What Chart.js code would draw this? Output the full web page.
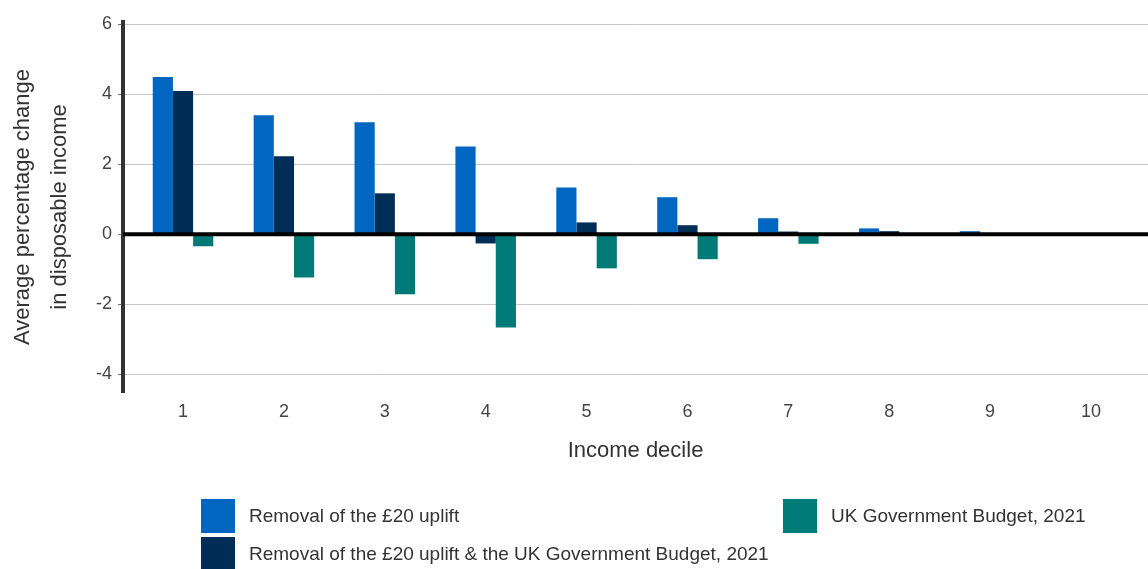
<!DOCTYPE html>
<html><head><meta charset="utf-8">
<script src="https://cdn.jsdelivr.net/npm/chart.js@4"></script>
<style>
html,body{margin:0;padding:0;background:#fff;}
#wrap{position:relative;width:1148px;height:569px;overflow:hidden;font-family:"Liberation Sans",Arial,sans-serif;}
canvas{position:absolute;left:0;top:0;}
.lg{position:absolute;height:34px;display:flex;align-items:center;font-size:19px;color:#333;white-space:nowrap;}
.lg i{display:block;width:34px;height:34px;margin-right:14px;}
</style></head><body>
<div id="wrap"><canvas id="c" width="1148" height="569"></canvas><div id="legend"></div></div>
<script>
const deciles = ['1','2','3','4','5','6','7','8','9','10'];
const yTicks = [-4, -2, 0, 2, 4, 6];
const removalUplift = [4.49, 3.40, 3.20, 2.51, 1.34, 1.06, 0.46, 0.17, 0.09, 0];
const removalAndBudget = [4.09, 2.23, 1.17, -0.26, 0.34, 0.26, 0.08, 0.09, 0, 0];
const budget2021 = [-0.34, -1.23, -1.71, -2.66, -0.97, -0.71, -0.27, 0, 0, 0];
const seriesNames = ['Removal of the £20 uplift', 'Removal of the £20 uplift & the UK Government Budget, 2021', 'UK Government Budget, 2021'];
const seriesColors = ['#0066BF', '#002D55', '#007A76'];

const toPoints = arr => arr.map((v, i) => ({x: i + 1, y: v}));
const FONT = '"Liberation Sans", Arial, sans-serif';

const zeroLine = {
  id: 'zeroLine',
  afterDatasetsDraw(chart) {
    const {ctx, chartArea: a, scales: {y}} = chart;
    const py = y.getPixelForValue(0);
    ctx.save();
    ctx.strokeStyle = '#000';
    ctx.lineWidth = 4;
    ctx.beginPath();
    ctx.moveTo(a.left, py);
    ctx.lineTo(a.right, py);
    ctx.stroke();
    ctx.restore();
  }
};

const chart = new Chart(document.getElementById('c'), {
  type: 'bar',
  data: {
    datasets: [removalUplift, removalAndBudget, budget2021].map((arr, i) => ({
      label: seriesNames[i],
      data: toPoints(arr),
      backgroundColor: seriesColors[i],
      borderWidth: 0,
      categoryPercentage: 0.6,
      barPercentage: 1.0
    }))
  },
  options: {
    responsive: false,
    animation: false,
    devicePixelRatio: 1,
    layout: {padding: {top: 22, right: 0, bottom: 105, left: 0}},
    plugins: {legend: {display: false}, tooltip: {enabled: false}},
    scales: {
      x: {
        type: 'linear',
        offset: false,
        min: 0.405,
        max: 10.565,
        afterBuildTicks: s => { s.ticks = deciles.map((d, i) => ({value: i + 1})); },
        ticks: {
          callback: (v, i) => deciles[i],
          font: {family: FONT, size: 18},
          color: '#444', padding: 9, autoSkip: false, maxRotation: 0
        },
        grid: {display: false, drawTicks: false},
        border: {display: false},
        title: {display: true, text: 'Income decile', font: {family: FONT, size: 22}, color: '#333', padding: 0},
        afterFit: s => { s.height = 72; }
      },
      y: {
        min: -4.5,
        max: 6.06,
        afterBuildTicks: s => { s.ticks = yTicks.map(v => ({value: v})); },
        ticks: {font: {family: FONT, size: 18}, color: '#444', padding: 6},
        grid: {
          color: ctx => (ctx.tick && ctx.tick.value === 0) ? 'rgba(0,0,0,0)' : '#c8c8c8',
          tickColor: '#777', tickLength: 5, lineWidth: 1
        },
        border: {color: '#333', width: 4},
        title: {
          display: true,
          text: ['Average percentage change', 'in disposable income'],
          font: {family: FONT, size: 22, lineHeight: '37px'},
          color: '#333', padding: {top: 4.5, bottom: 0}
        },
        afterFit: s => { s.width = 123; }
      }
    }
  },
  plugins: [zeroLine]
});

// HTML legend built from the chart's datasets
const legendPos = [[201, 499], [201, 537], [783, 499]];
const legendEl = document.getElementById('legend');
chart.data.datasets.forEach((ds, i) => {
  const d = document.createElement('div');
  d.className = 'lg';
  d.style.left = legendPos[i][0] + 'px';
  d.style.top = legendPos[i][1] + 'px';
  const box = document.createElement('i');
  box.style.background = ds.backgroundColor;
  d.appendChild(box);
  d.appendChild(document.createTextNode(ds.label));
  legendEl.appendChild(d);
});
</script>
</body></html>
